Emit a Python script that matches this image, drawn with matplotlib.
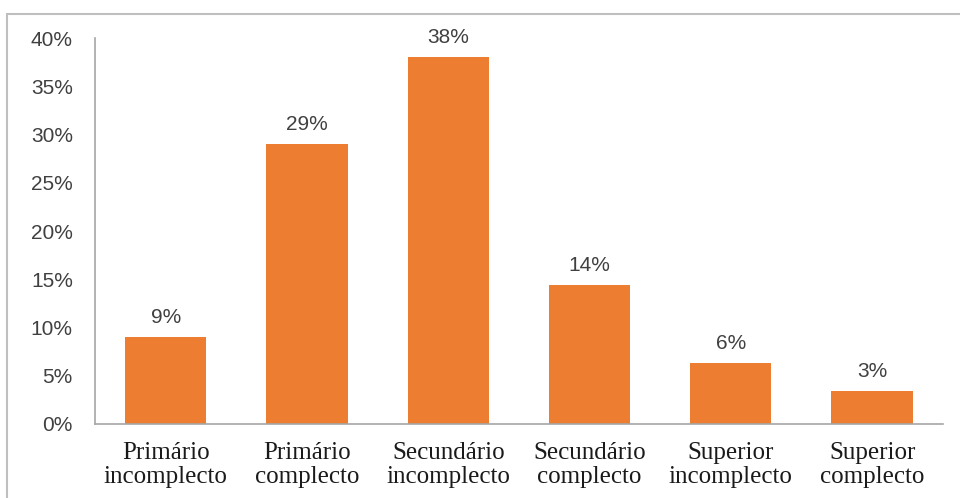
import matplotlib.pyplot as plt
from matplotlib.patches import Rectangle

categories = ["Primário\nincomplecto", "Primário\ncomplecto", "Secundário\nincomplecto",
              "Secundário\ncomplecto", "Superior\nincomplecto", "Superior\ncomplecto"]
shares = [9.0, 29.0, 38.0, 14.4, 6.3, 3.4]
yticks = [0, 5, 10, 15, 20, 25, 30, 35, 40]

fig = plt.figure(figsize=(9.6, 4.98), dpi=100)
ax = fig.add_axes([0.099, 0.1486, 0.883, 0.775])

x = range(len(categories))
bars = ax.bar(x, shares, width=0.575, color="#ED7D31")

for b, v in zip(bars, shares):
    ax.annotate(f"{v:.0f}%", (b.get_x() + b.get_width() / 2, v),
                xytext=(0, 10), textcoords="offset points",
                ha="center", va="baseline", fontsize=15,
                family="Liberation Sans", color="#404040")

ax.set_xlim(-0.5, len(categories) - 0.5)
ax.set_ylim(0, 40)
ax.set_yticks(yticks)
ax.set_yticklabels([f"{t}%" for t in yticks], family="Liberation Sans",
                   fontsize=15, color="#404040")
ax.set_xticks(list(x))
ax.set_xticklabels(categories, family="Liberation Serif", fontsize=18,
                   color="#1a1a1a", linespacing=1.1)
ax.tick_params(axis="y", length=0, pad=16)
ax.tick_params(axis="x", length=0, pad=13)

for s in ["top", "right"]:
    ax.spines[s].set_visible(False)
for s in ["left", "bottom"]:
    ax.spines[s].set_color("#A6A6A6")
    ax.spines[s].set_linewidth(1.2)

# outer chart frame
fig.patches.append(Rectangle((7 / 960, -0.1), 1.2, (498 - 14) / 498 + 0.1,
                             transform=fig.transFigure, fill=False,
                             edgecolor="#BFBFBF", linewidth=1.5))

plt.savefig("out.png", dpi=100)
